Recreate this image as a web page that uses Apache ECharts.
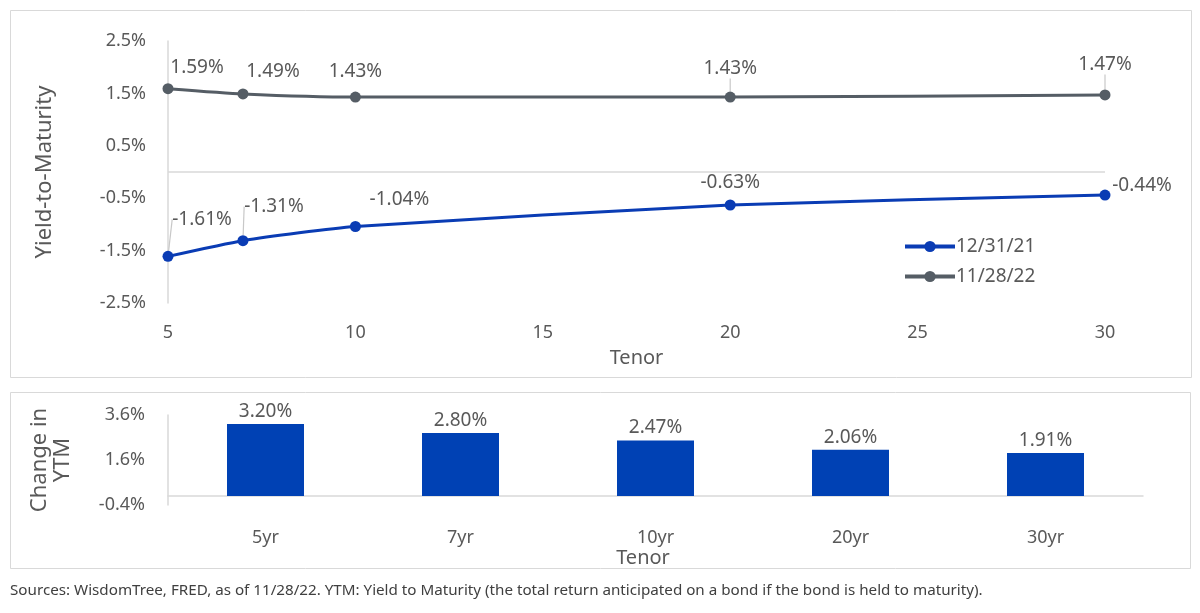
<!DOCTYPE html>
<html lang="en">
<head>
    <meta charset="UTF-8">
    <title>Yield-to-Maturity by Tenor</title>
    <style>
        html, body { margin: 0; padding: 0; background: #fff; }
        #main { width: 1200px; height: 613px; }
    </style>
</head>
<body>
<div id="main"></div>

<script src="https://cdn.jsdelivr.net/npm/echarts@6/dist/echarts.min.js"></script>
<script>
// data
var tenors = [5, 7, 10, 20, 30];
var ytm2021 = [-1.61, -1.31, -1.04, -0.63, -0.44];
var ytm2022 = [1.59, 1.49, 1.43, 1.43, 1.47];
var barCats = ['5yr', '7yr', '10yr', '20yr', '30yr'];
var ytmChange = [3.20, 2.80, 2.47, 2.06, 1.91];

var BLUE = '#0a3cb4';
var GREY = '#555d65';
var TXT = '#595959';
var FONT = '"Noto Sans", sans-serif';

// label shifts from the marker centre (px)
var blueShift = [[34, -37], [31, -34], [44, -27], [0, -22], [37, -9]];
var greyShift = [[29, -21], [30, -22], [0, -25], [0, -28], [0, -30]];
var blueLeader = [true, true, false, false, false];
var greyLeader = [false, false, false, true, true];

function pct1(v) { return v.toFixed(1) + '%'; }

function lineData(vals, leaders) {
    return tenors.map(function (t, i) {
        return { value: [t, vals[i]], labelLine: { show: leaders[i] } };
    });
}

var chart = echarts.init(document.getElementById('main'));

var option = {
    backgroundColor: '#fff',
    animation: false,
    textStyle: { fontFamily: FONT },
    graphic: [
        { type: 'rect', shape: { x: 10.5, y: 10.5, width: 1181, height: 367 },
          style: { fill: 'none', stroke: '#d9d9d9', lineWidth: 1 }, silent: true },
        { type: 'rect', shape: { x: 10.5, y: 392.5, width: 1180, height: 176 },
          style: { fill: 'none', stroke: '#d9d9d9', lineWidth: 1 }, silent: true },
        { type: 'text', left: 10, top: 583,
          style: { text: 'Sources: WisdomTree, FRED, as of 11/28/22. YTM: Yield to Maturity (the total return anticipated on a bond if the bond is held to maturity).',
                   fill: '#404040', font: '15.2px ' + FONT } }
    ],
    legend: {
        orient: 'vertical',
        left: 898,
        top: 232,
        itemWidth: 50,
        itemHeight: 14,
        itemGap: 11,
        lineStyle: { width: 4 },
        textStyle: { color: TXT, fontSize: 19, padding: [0, 0, 0, -4] },
        data: ['12/31/21', '11/28/22']
    },
    grid: [
        { left: 168, right: 95, top: 41, bottom: 310 },
        { left: 168, right: 57, top: 415, bottom: 108 }
    ],
    xAxis: [{
        gridIndex: 0,
        type: 'value',
        min: 5, max: 30, interval: 5,
        name: 'Tenor',
        nameLocation: 'middle',
        nameGap: 45,
        nameTextStyle: { color: TXT, fontSize: 20 },
        axisLine: { show: false, onZero: false },
        axisTick: { show: false },
        splitLine: { show: false },
        axisLabel: { color: TXT, fontSize: 18, margin: 21 }
    }, {
        gridIndex: 1,
        type: 'category',
        data: barCats,
        name: 'Tenor',
        nameLocation: 'middle',
        nameGap: 35,
        nameTextStyle: { color: TXT, fontSize: 20, padding: [0, 25, 0, 0] },
        axisLine: { show: true, onZero: true, lineStyle: { color: '#d9d9d9', width: 1.5 } },
        axisTick: { show: false },
        axisLabel: { color: TXT, fontSize: 18, margin: 24 }
    }],
    yAxis: [{
        gridIndex: 0,
        type: 'value',
        min: -2.5, max: 2.5, interval: 1,
        name: 'Yield-to-Maturity',
        nameLocation: 'middle',
        nameRotate: 90,
        nameGap: 112,
        nameTextStyle: { color: TXT, fontSize: 22 },
        axisLine: { show: true, onZero: false, lineStyle: { color: '#d9d9d9', width: 1.5 } },
        axisTick: { show: false },
        splitLine: { show: false },
        axisLabel: { color: TXT, fontSize: 18, margin: 22, formatter: pct1 }
    }, {
        gridIndex: 1,
        type: 'value',
        min: -0.4, max: 3.6, interval: 2,
        name: 'Change in\nYTM',
        nameLocation: 'middle',
        nameRotate: 90,
        nameGap: 94,
        nameTextStyle: { color: TXT, fontSize: 22, lineHeight: 23 },
        axisLine: { show: true, onZero: false, lineStyle: { color: '#d9d9d9', width: 1.5 } },
        axisTick: { show: false },
        splitLine: { show: false },
        axisLabel: { color: TXT, fontSize: 18, margin: 23, formatter: pct1 }
    }],
    series: [{
        name: '12/31/21',
        type: 'line',
        xAxisIndex: 0, yAxisIndex: 0,
        data: lineData(ytm2021, blueLeader),
        smooth: 0.2,
        symbol: 'circle',
        symbolSize: 11,
        lineStyle: { color: BLUE, width: 3 },
        itemStyle: { color: BLUE },
        label: {
            show: true, position: 'inside', color: TXT, fontSize: 19,
            formatter: function (p) { return p.value[1].toFixed(2) + '%'; }
        },
        labelLine: { lineStyle: { color: '#c8c8c8', width: 1.2 } },
        labelLayout: function (p) {
            return { dx: blueShift[p.dataIndex][0], dy: blueShift[p.dataIndex][1] };
        },
        markLine: {
            silent: true,
            symbol: 'none',
            label: { show: false },
            lineStyle: { color: '#d9d9d9', width: 1.5, type: 'solid' },
            data: [{ yAxis: 0 }]
        }
    }, {
        name: '11/28/22',
        type: 'line',
        xAxisIndex: 0, yAxisIndex: 0,
        data: lineData(ytm2022, greyLeader),
        smooth: 0.2,
        symbol: 'circle',
        symbolSize: 11,
        lineStyle: { color: GREY, width: 3 },
        itemStyle: { color: GREY },
        label: {
            show: true, position: 'inside', color: TXT, fontSize: 19,
            formatter: function (p) { return p.value[1].toFixed(2) + '%'; }
        },
        labelLine: { lineStyle: { color: '#c8c8c8', width: 1.2 } },
        labelLayout: function (p) {
            return { dx: greyShift[p.dataIndex][0], dy: greyShift[p.dataIndex][1] };
        }
    }, {
        name: 'Change in YTM',
        type: 'bar',
        xAxisIndex: 1, yAxisIndex: 1,
        data: ytmChange,
        barWidth: 77,
        itemStyle: { color: '#0041b4' },
        label: {
            show: true, position: 'top', distance: 3, color: TXT, fontSize: 19,
            formatter: function (p) { return p.value.toFixed(2) + '%'; }
        }
    }]
};

chart.setOption(option);
</script>
</body>
</html>
